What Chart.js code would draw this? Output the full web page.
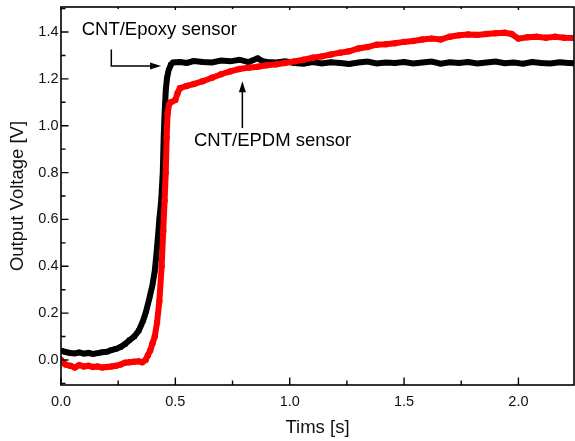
<!DOCTYPE html>
<html>
<head>
<meta charset="utf-8">
<script src="https://cdn.jsdelivr.net/npm/chart.js@4/dist/chart.umd.min.js"></script>
<style>
html,body{margin:0;padding:0;background:#fff;overflow:hidden;width:575px;height:441px;}
canvas{display:block;}
</style>
</head>
<body>
<canvas id="c" width="578" height="441"></canvas>
<script>
// ---- data ----
const epoxyTime = [0.00,0.02,0.04,0.06,0.08,0.10,0.12,0.14,0.16,0.18,0.20,0.22,0.24,0.26,0.28,0.30,0.32,0.34,0.36,0.373,0.388,0.40,0.41,0.42,0.43,0.438,0.445,0.449,0.453,0.458,0.463,0.47,0.48,0.49,0.52,0.55,0.58,0.62,0.66,0.70,0.74,0.78,0.82,0.86,0.88,0.90,0.94,0.98,1.02,1.06,1.10,1.14,1.18,1.22,1.26,1.30,1.34,1.38,1.42,1.46,1.50,1.54,1.58,1.62,1.66,1.70,1.74,1.78,1.82,1.86,1.90,1.94,1.98,2.02,2.06,2.10,2.14,2.18,2.22,2.25];
const epoxyVolt = [0.040,0.034,0.030,0.028,0.032,0.027,0.030,0.026,0.029,0.033,0.035,0.042,0.047,0.055,0.068,0.085,0.100,0.125,0.170,0.210,0.270,0.320,0.380,0.480,0.600,0.680,0.800,0.950,1.050,1.150,1.200,1.235,1.260,1.270,1.272,1.268,1.276,1.272,1.270,1.278,1.275,1.282,1.272,1.288,1.276,1.272,1.270,1.275,1.268,1.265,1.272,1.266,1.271,1.268,1.264,1.270,1.274,1.266,1.270,1.268,1.272,1.266,1.270,1.274,1.265,1.271,1.268,1.272,1.266,1.270,1.274,1.267,1.270,1.265,1.272,1.268,1.266,1.271,1.268,1.266];

const epdmTime = [0.00,0.01,0.02,0.04,0.06,0.08,0.10,0.12,0.14,0.16,0.18,0.20,0.22,0.24,0.26,0.28,0.30,0.32,0.34,0.355,0.37,0.38,0.39,0.40,0.41,0.42,0.43,0.44,0.447,0.453,0.458,0.462,0.466,0.472,0.48,0.50,0.51,0.52,0.55,0.58,0.62,0.66,0.70,0.74,0.78,0.82,0.86,0.90,0.94,0.98,1.02,1.06,1.10,1.14,1.18,1.22,1.26,1.30,1.34,1.38,1.42,1.46,1.50,1.54,1.58,1.62,1.66,1.70,1.74,1.78,1.82,1.86,1.90,1.94,1.97,2.00,2.04,2.08,2.12,2.16,2.20,2.25];
const epdmVolt = [0.000,-0.012,-0.020,-0.025,-0.032,-0.022,-0.028,-0.025,-0.030,-0.028,-0.032,-0.030,-0.028,-0.025,-0.020,-0.012,-0.010,-0.008,-0.006,-0.010,0.000,0.020,0.040,0.070,0.100,0.160,0.250,0.400,0.550,0.680,0.800,0.950,1.050,1.090,1.100,1.110,1.140,1.160,1.170,1.178,1.190,1.205,1.220,1.232,1.242,1.248,1.252,1.258,1.262,1.268,1.275,1.282,1.290,1.296,1.304,1.312,1.318,1.330,1.336,1.346,1.348,1.352,1.358,1.362,1.368,1.372,1.368,1.380,1.386,1.390,1.388,1.392,1.395,1.397,1.392,1.372,1.378,1.380,1.376,1.380,1.376,1.375];

const xTicks = [0.0,0.5,1.0,1.5,2.0];
const xMinorTicks = [0.25,0.75,1.25,1.75,2.25];
const yTicks = [0.0,0.2,0.4,0.6,0.8,1.0,1.2,1.4];
const yMinorTicks = [-0.1,0.1,0.3,0.5,0.7,0.9,1.1,1.3,1.5];

const seriesNames = ['CNT/EPDM sensor','CNT/Epoxy sensor'];
const xTitle = 'Tims [s]';
const yTitle = 'Output Voltage [V]';

// ---- chart ----
const FONT = '"Liberation Sans", Arial, sans-serif';
const toXY = (t, v) => t.map((ti, i) => ({x: ti, y: v[i]}));

const decor = {
  id: 'decor',
  afterDraw(chart) {
    const {ctx, chartArea: a, scales: {x, y}} = chart;
    ctx.save();
    ctx.strokeStyle = '#000';
    ctx.lineWidth = 1.6;
    ctx.strokeRect(a.left, a.top, a.right - a.left, a.bottom - a.top);
    ctx.lineWidth = 1.4;
    ctx.beginPath();
    xTicks.forEach(v => { const px = x.getPixelForValue(v);
      ctx.moveTo(px, a.bottom); ctx.lineTo(px, a.bottom - 7.5);
      ctx.moveTo(px, a.top); ctx.lineTo(px, a.top + 3); });
    xMinorTicks.forEach(v => { const px = x.getPixelForValue(v);
      if (px > a.right) return;
      ctx.moveTo(px, a.bottom); ctx.lineTo(px, a.bottom - 4.5);
      ctx.moveTo(px, a.top); ctx.lineTo(px, a.top + 2); });
    yTicks.forEach(v => { const py = y.getPixelForValue(v);
      ctx.moveTo(a.left, py); ctx.lineTo(a.left + 7.5, py); });
    yMinorTicks.forEach(v => { const py = y.getPixelForValue(v);
      if (py < a.top || py > a.bottom) return;
      ctx.moveTo(a.left, py); ctx.lineTo(a.left + 4.5, py); });
    ctx.stroke();

    // annotations
    ctx.fillStyle = '#000';
    ctx.font = '18.5px ' + FONT;
    ctx.textBaseline = 'alphabetic';
    ctx.textAlign = 'left';
    ctx.fillText(seriesNames[1], x.getPixelForValue(0.0905), y.getPixelForValue(1.389));
    ctx.fillText(seriesNames[0], x.getPixelForValue(0.5815), y.getPixelForValue(0.9115));

    ctx.lineWidth = 1.5;
    // Epoxy arrow (down then right)
    const ax = x.getPixelForValue(0.220), ay0 = y.getPixelForValue(1.325), ay1 = y.getPixelForValue(1.255);
    const tipX = x.getPixelForValue(0.4375);
    ctx.beginPath();
    ctx.moveTo(ax, ay0); ctx.lineTo(ax, ay1); ctx.lineTo(tipX - 8, ay1);
    ctx.stroke();
    ctx.beginPath();
    ctx.moveTo(tipX, ay1); ctx.lineTo(tipX - 11, ay1 - 3.5); ctx.lineTo(tipX - 11, ay1 + 3.5); ctx.closePath();
    ctx.fill();
    // EPDM arrow (up)
    const bx = x.getPixelForValue(0.793), by0 = y.getPixelForValue(0.99), tipY = y.getPixelForValue(1.19);
    ctx.beginPath();
    ctx.moveTo(bx, by0); ctx.lineTo(bx, tipY + 8);
    ctx.stroke();
    ctx.beginPath();
    ctx.moveTo(bx, tipY); ctx.lineTo(bx - 3.5, tipY + 11); ctx.lineTo(bx + 3.5, tipY + 11); ctx.closePath();
    ctx.fill();
    ctx.restore();
  }
};

new Chart(document.getElementById('c'), {
  type: 'scatter',
  data: {
    datasets: [
      { label: seriesNames[0], data: toXY(epdmTime, epdmVolt), showLine: true,
        borderColor: '#ff0000', backgroundColor: '#ff0000', borderWidth: 6,
        pointRadius: 3.2, pointStyle: 'circle', pointBorderWidth: 0, tension: 0 },
      { label: seriesNames[1], data: toXY(epoxyTime, epoxyVolt), showLine: true,
        borderColor: '#000000', backgroundColor: '#000000', borderWidth: 6,
        pointRadius: 3.5, pointStyle: 'rect', pointBorderWidth: 0, tension: 0 }
    ]
  },
  options: {
    responsive: false,
    animation: false,
    devicePixelRatio: 1,
    layout: { padding: { top: 7, right: 0, left: 0, bottom: 0 } },
    plugins: { legend: { display: false }, tooltip: { enabled: false } },
    scales: {
      x: {
        type: 'linear', min: 0, max: 2.243,
        grid: { display: false, drawTicks: false },
        border: { display: false },
        afterBuildTicks: s => { s.ticks = xTicks.map(v => ({value: v})); },
        afterFit: s => { s.height = 56; s.paddingLeft = 0; s.paddingRight = 0; },
        ticks: { padding: 8, color: '#111', font: { family: FONT, size: 14.5 },
                 callback: v => Number(v).toFixed(1), maxRotation: 0 },
        title: { display: true, text: xTitle, color: '#111',
                 font: { family: FONT, size: 18.5 }, padding: { top: 0, bottom: 2 } }
      },
      y: {
        type: 'linear', min: -0.107, max: 1.507,
        grid: { display: false, drawTicks: false },
        border: { display: false },
        afterBuildTicks: s => { s.ticks = yTicks.map(v => ({value: v})); },
        afterFit: s => { s.width = 61; s.paddingTop = 0; s.paddingBottom = 0; },
        ticks: { padding: 2.5, color: '#111', font: { family: FONT, size: 14.5 },
                 callback: v => Number(v).toFixed(1) },
        title: { display: true, text: yTitle, color: '#111',
                 font: { family: FONT, size: 18.5 }, padding: { top: 7, bottom: 0 } }
      }
    }
  },
  plugins: [decor]
});
</script>
</body>
</html>
